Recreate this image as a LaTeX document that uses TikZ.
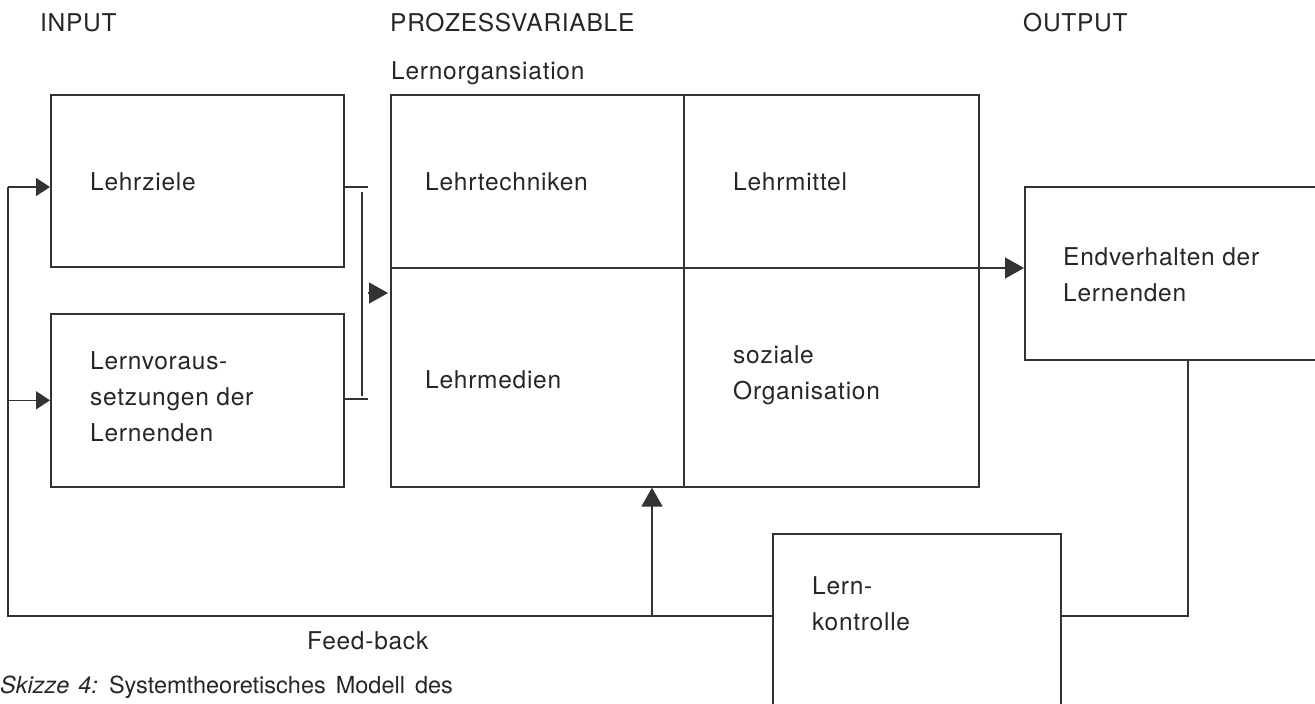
\documentclass[tikz,border=0pt]{standalone}
\usepackage{fontspec}
\setmainfont{TeX Gyre Heros}[LetterSpace=3]
\usetikzlibrary{arrows.meta}
\begin{document}
\begin{tikzpicture}[x=1pt,y=-1pt,
  ln/.style={line width=1.6pt, draw=black!80},
  box/.style={ln, rectangle, inner sep=0pt, anchor=north west},
  lbl/.style={anchor=north west, inner sep=0pt, align=left, font=\fontsize{24.5}{36}\selectfont, text=black!85},
  tri/.style={ln, -{Triangle[length=19pt,width=21pt]}},
  tris/.style={ln, -{Triangle[length=14pt,width=18pt]}}]
\useasboundingbox (0,0) rectangle (1315,704);
\clip (0,0) rectangle (1315,704);
% headings
\node[lbl] (hin) at (40,13) {INPUT};
\node[lbl] (hpv) at (390,13) {PROZESSVARIABLE};
\node[lbl] (hout) at (1023,13) {OUTPUT};
\node[lbl] (horg) at (391,61) {Lernorgansiation};
% boxes
\node[box, minimum width=293pt, minimum height=172pt] (lz) at (50,94) {};
\node[box, minimum width=293pt, minimum height=173pt] (lv) at (50,313) {};
\node[box, minimum width=588pt, minimum height=392pt] (pv) at (390,94) {};
\node[box, minimum width=316pt, minimum height=173pt] (ev) at (1024,186) {};
\node[box, minimum width=288pt, minimum height=187pt] (lk) at (772,533) {};
% process box dividers
\coordinate (mv) at (684,268);
\draw[ln] (mv |- pv.north) -- (mv |- pv.south);
\draw[ln] (mv -| pv.west) -- (mv -| pv.east);
% texts
\node[lbl] (tlz) at (90,172) {Lehrziele};
\node[lbl] (tlv) at (90,351) {Lernvoraus-\\setzungen der\\Lernenden};
\node[lbl] (tlt) at (425,172) {Lehrtechniken};
\node[lbl] (tlm) at (733,172) {Lehrmittel};
\node[lbl] (tme) at (425,370) {Lehrmedien};
\node[lbl] (tso) at (733,345) {soziale\\Organisation};
\node[lbl] (tev) at (1063,247) {Endverhalten der\\Lernenden};
\node[lbl] (tlk) at (812,576) {Lern-\\kontrolle};
\node[lbl] (tfb) at (307,631) {Feed-back};
\node[lbl, font=\fontsize{23.5}{30}\selectfont\addfontfeature{LetterSpace=0}] (cap) at (0,676) {\textit{Skizze\hspace{9pt}4:}\hspace{11pt}Systemtheoretisches\hspace{10pt}Modell\hspace{10pt}des};
% bracket joining the inputs
\coordinate (bt) at (362,187);
\coordinate (bb) at (362,399);
\draw[ln] (bt -| lz.east) -- ++(23,0);
\draw[ln] (bb -| lv.east) -- ++(23,0);
\draw[ln] ([yshift=-5pt]bt) -- ([yshift=3pt]bb);
\coordinate (ba) at (368,293);
\draw[tri] (ba) -- ([xshift=-2pt]ba -| pv.west);
% output arrow
\draw[tri] (mv -| pv.east) -- (mv -| ev.west);
% feedback loop
\coordinate (fb) at (8,616);
\coordinate (a1) at (8,187);
\coordinate (oc) at (1188,616);
\coordinate (up) at (652,616);
\draw[ln] (oc |- ev.south) -- (oc) -- (oc -| lk.east);
\draw[ln] (lk.west |- fb) -- (fb) -- (a1);
\draw[tris] (a1) -- (a1 -| lz.west);
\draw[tris] (fb |- lv.west) -- (lv.west);
\draw[tri] (up) -- (up |- pv.south);
\end{tikzpicture}
\end{document}
